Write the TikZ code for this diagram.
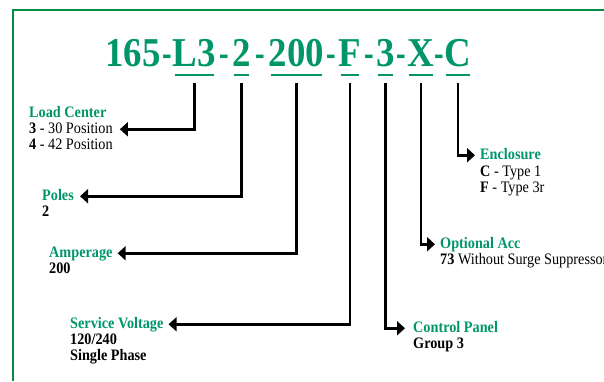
\documentclass[tikz,border=0pt]{standalone}
\usepackage{fontspec}
\setmainfont{Liberation Serif}
\newfontfamily\codefont[FakeStretch=0.9]{Liberation Serif}
\newfontfamily\hyphfont[FakeStretch=0.7]{Liberation Serif}
\newfontfamily\labelfont[FakeStretch=0.89]{Liberation Serif}
\usepackage{xcolor}
\usetikzlibrary{arrows.meta,calc}

\definecolor{codegreen}{RGB}{0,150,105}
\definecolor{framegreen}{RGB}{0,140,65}

\tikzset{
  seg/.style={anchor=base, inner sep=0pt, text=codegreen, font=\fontsize{41}{41}\codefont\bfseries},
  hyph/.style={seg, font=\fontsize{41}{41}\hyphfont\bfseries},
  uline/.style={codegreen, line width=2.2pt, shorten <=2pt, shorten >=2pt},
  conn/.style={black, line width=2.8pt, -{Triangle[length=8pt,width=14pt]}},
  head/.style={anchor=base west, inner sep=0pt, text=codegreen, text height=11pt, text depth=3.5pt, font=\fontsize{16}{17}\labelfont\bfseries},
  body/.style={anchor=base west, inner sep=0pt, text height=11pt, text depth=3.5pt, font=\fontsize{16}{17}\labelfont}
}

\begin{document}
\begin{tikzpicture}[x=1pt,y=-1pt]
        \useasboundingbox (0,0) rectangle (604,381);

        % Green frame, top and left
        \draw[framegreen, line width=1.8pt] (13,381) -- (13,10) -- (604,10);

        % Catalogue number, one node per part
        \node[seg] (s165) at (133,66) {165};
        \node[seg] (l3) at (194.5,66) {L3};
        \node[seg] (s2) at (241.5,66) {2};
        \node[seg] (s200) at (296.5,66) {200};
        \node[seg] (sf) at (350,66) {F};
        \node[seg] (s3) at (385.5,66) {3};
        \node[seg] (sx) at (421,66) {X};
        \node[seg] (sc) at (458,66) {C};

        % Hyphens between the parts
        \node[hyph] (h1) at ($(s165.base east)!0.5!(l3.base west)$) {-};
        \node[hyph] (h2) at ($(l3.base east)!0.5!(s2.base west)$) {-};
        \node[hyph] (h3) at ($(s2.base east)!0.5!(s200.base west)$) {-};
        \node[hyph] (h4) at ($(s200.base east)!0.5!(sf.base west)$) {-};
        \node[hyph] (h5) at ($(sf.base east)!0.5!(s3.base west)$) {-};
        \node[hyph] (h6) at ($(s3.base east)!0.5!(sx.base west)$) {-};
        \node[hyph] (h7) at ($(sx.base east)!0.5!(sc.base west)$) {-};

        % Underlines
        \foreach \s in {l3,s2,s200,sf,s3,sx,sc}
            \draw[uline] ([yshift=-9pt]\s.base west) -- ([yshift=-9pt]\s.base east);

        % Left side labels
        \node[head] (lc) at (29,117) {Load Center};
        \node[body] (lc1) at (29,133) {\textbf{3} - 30 Position};
        \node[body] (lc2) at (29,149) {\textbf{4} - 42 Position};

        \node[head] (pl) at (42,200) {Poles};
        \node[body] (pl1) at (42,216) {\textbf{2}};

        \node[head] (amp) at (49,257) {Amperage};
        \node[body] (amp1) at (49,273) {\textbf{200}};

        \node[head] (sv) at (70,328) {Service Voltage};
        \node[body] (sv1) at (70,344) {\textbf{120/240}};
        \node[body] (sv2) at (70,360) {\textbf{Single Phase}};

        % Right side labels
        \node[head] (enc) at (480,159) {Enclosure};
        \node[body] (enc1) at (480,176) {\textbf{C} - Type 1};
        \node[body] (enc2) at (480,192) {\textbf{F} - Type 3r};

        \node[head] (oa) at (440,248) {Optional Acc};
        \node[body] (oa1) at (440,264) {\textbf{73} Without Surge Suppressor};

        \node[head] (cp) at (413,332) {Control Panel};
        \node[body] (cp1) at (413,348) {\textbf{Group 3}};

        % Connectors
        \draw[conn] ([yshift=-17pt]l3.base) |- ([xshift=7pt]lc1.east);
        \draw[conn] ([yshift=-17pt]s2.base) |- ([xshift=6pt]pl.east);
        \draw[conn] ([yshift=-17pt]s200.base) |- ([xshift=5pt]amp.east);
        \draw[conn] ([yshift=-17pt]sf.base) |- ([xshift=5pt]sv.east);
        \draw[conn] ([yshift=-17pt]s3.base) |- ([xshift=-8pt]cp.west);
        \draw[conn] ([yshift=-17pt]sx.base) |- ([xshift=-5pt]oa.west);
        \draw[conn] ([yshift=-17pt]sc.base) |- ([xshift=-5pt]enc.west);
\end{tikzpicture}
\end{document}
